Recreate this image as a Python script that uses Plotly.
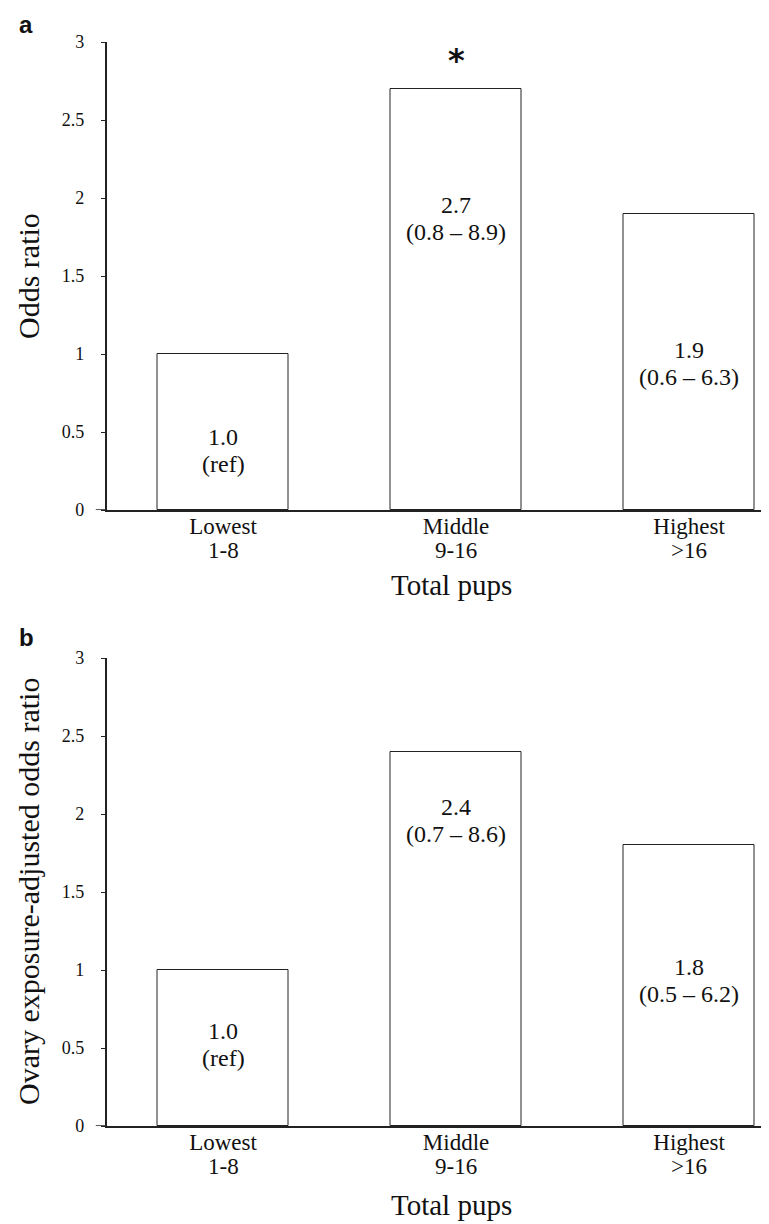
import plotly.graph_objects as go
from plotly.subplots import make_subplots

categories = ["Lowest", "Middle", "Highest"]
pup_ranges = ["1-8", "9-16", ">16"]
odds_a = [1.0, 2.7, 1.9]
ci_a = ["(ref)", "(0.8 – 8.9)", "(0.6 – 6.3)"]
odds_b = [1.0, 2.4, 1.8]
ci_b = ["(ref)", "(0.7 – 8.6)", "(0.5 – 6.2)"]
significant_a = [False, True, False]
y_ticks = [0, 0.5, 1, 1.5, 2, 2.5, 3]

# label anchor heights (data units) for the in-bar text
label_pos_a = [0.38, 1.87, 0.94]
label_pos_b = [0.52, 1.96, 0.93]

W, H = 769, 1224
FONT = "Liberation Serif, Times New Roman, serif"
INK = "#111111"

fig = make_subplots(rows=2, cols=1)

xs = list(range(len(categories)))
for row, vals in ((1, odds_a), (2, odds_b)):
    fig.add_trace(go.Bar(
        x=xs, y=vals, width=0.56,
        marker=dict(color="white", line=dict(color="#222222", width=1)),
        showlegend=False, hoverinfo="skip"), row=row, col=1)

x_left = 98.5 / W
dom_a = [1 - 502 / H, 1 - 34 / H]
dom_b = [1 - 1118 / H, 1 - 650 / H]

axis_common = dict(showgrid=False, zeroline=False, showline=True,
                   linecolor="#222222", linewidth=1.5)
for ax, dom in (("yaxis", dom_a), ("yaxis2", dom_b)):
    fig.layout[ax].update(domain=dom, range=[0, 3], tickvals=y_ticks,
                          ticks="outside", ticklen=4, tickcolor="#222222",
                          ticklabelstandoff=13,
                          tickfont=dict(family=FONT, size=18, color=INK),
                          automargin=False, **axis_common)
for ax in ("xaxis", "xaxis2"):
    fig.layout[ax].update(domain=[x_left, 1], range=[-0.5, 2.377],
                          tickvals=xs, ticktext=categories, ticks="",
                          ticklabelstandoff=-5,
                          tickfont=dict(family=FONT, size=23, color=INK),
                          automargin=False, **axis_common)

ann = []
LINE_GAP = 27
for xref, yref, vals, ci, pos in (("x", "y", odds_a, ci_a, label_pos_a),
                                  ("x2", "y2", odds_b, ci_b, label_pos_b)):
    for i, (v, c, p) in enumerate(zip(vals, ci, pos)):
        for txt, shift in ((f"{v:.1f}", LINE_GAP / 2), (c, -LINE_GAP / 2)):
            ann.append(dict(x=i, y=p, xref=xref, yref=yref, yshift=shift,
                            xanchor="center", yanchor="middle",
                            text=txt, showarrow=False,
                            font=dict(family=FONT, size=24, color=INK)))
    # second line of the category labels (pup-count ranges)
    for i, r in enumerate(pup_ranges):
        ann.append(dict(x=i, y=0, xref=xref, yref=yref, yshift=-40,
                        xanchor="center", yanchor="middle", text=r,
                        showarrow=False,
                        font=dict(family=FONT, size=23, color=INK)))
for i, (v, s) in enumerate(zip(odds_a, significant_a)):
    if s:
        ann.append(dict(x=i, y=v, xref="x", yref="y", text="<b>*</b>",
                        xanchor="center", yanchor="bottom", yshift=8,
                        showarrow=False,
                        font=dict(family="DejaVu Sans, Arial", size=32, color=INK)))

def paper_text(text, px, py, size, family=FONT, angle=0):
    return dict(x=px / W, y=1 - py / H, xref="paper", yref="paper",
                xanchor="center", yanchor="middle", text=text,
                textangle=angle, showarrow=False,
                font=dict(family=family, size=size, color=INK))

ann.append(paper_text("Odds ratio", 20, 268, 30, angle=-90))
ann.append(paper_text("Ovary exposure-adjusted odds ratio", 20, 884, 30, angle=-90))
ann.append(paper_text("Total pups", 443, 577, 29))
ann.append(paper_text("Total pups", 443, 1197, 29))
ann.append(paper_text("<b>a</b>", 18, 17, 24, family="Liberation Sans, Arial"))
ann.append(paper_text("<b>b</b>", 18, 630, 24, family="Liberation Sans, Arial"))

shapes = []
for yref, xref in (("y", "x domain"), ("y2", "x2 domain")):
    shapes.append(dict(type="line", xref=xref, yref=yref, x0=-0.016, x1=0, y0=0, y1=0,
                       line=dict(color="#222222", width=1.5)))

fig.update_layout(width=W, height=H, margin=dict(l=0, r=0, t=0, b=0),
                  paper_bgcolor="white", plot_bgcolor="white",
                  annotations=ann, shapes=shapes, bargap=0)

fig.write_html("out.html")
